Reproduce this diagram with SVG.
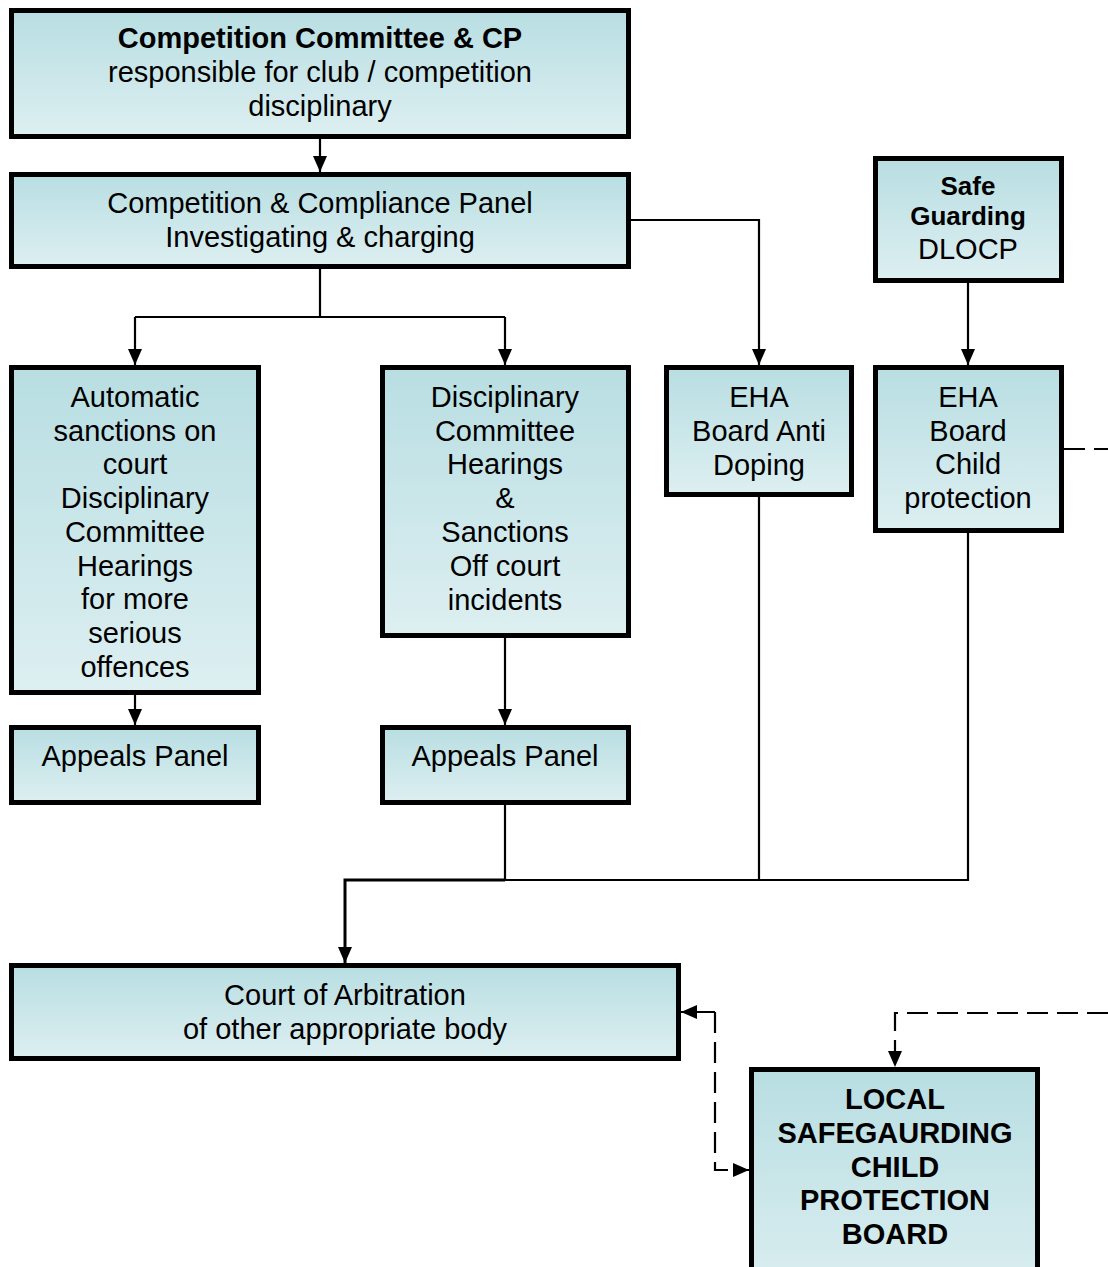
<svg xmlns="http://www.w3.org/2000/svg" width="1108" height="1267" viewBox="0 0 1108 1267">
<style>
.box{fill:url(#g);stroke:#000;stroke-width:5}
text{font-family:"Liberation Sans",Arial,sans-serif;font-size:29px;fill:#000;text-anchor:middle}
.b{font-weight:bold}
.s{font-size:26px}
.ln{fill:none;stroke:#000;stroke-width:2.2}
.thick{stroke-width:3}
.d{stroke-dasharray:21 9}
</style>
<defs>
<linearGradient id="g" x1="0" y1="0" x2="0" y2="1">
<stop offset="0" stop-color="#b8dee2"/>
<stop offset="1" stop-color="#ddeff1"/>
</linearGradient>
<marker id="a" viewBox="0 0 16 14" refX="16" refY="7" markerWidth="16" markerHeight="14" orient="auto" markerUnits="userSpaceOnUse">
<path d="M0,0 L16,7 L0,14 z" fill="#000"/>
</marker>
</defs>
<g id="connectors">
<path class="ln" d="M320,139 V172" marker-end="url(#a)"/>
<path class="ln" d="M631,220 H759 V365" marker-end="url(#a)"/>
<path class="ln" d="M320,269 V317 M135,317 H505"/>
<path class="ln" d="M135,317 V365" marker-end="url(#a)"/>
<path class="ln" d="M505,317 V365" marker-end="url(#a)"/>
<path class="ln" d="M968,283 V365" marker-end="url(#a)"/>
<path class="ln" d="M135,695 V725" marker-end="url(#a)"/>
<path class="ln" d="M505,638 V725" marker-end="url(#a)"/>
<path class="ln" d="M505,805 V880 H968 V533 M759,497 V880"/>
<path class="ln thick" d="M505,880 H345 V963" marker-end="url(#a)"/>
<path class="ln d" d="M1064,449 H1108"/>
<path class="ln d" d="M1108,1013 H895 V1067" marker-end="url(#a)"/>
<path class="ln d" d="M715,1012 H681" marker-end="url(#a)"/>
<path class="ln d" d="M715,1012 V1170 H749" marker-end="url(#a)"/>
</g>
<g id="n1">
<rect class="box" x="11.5" y="10.5" width="617" height="126"/>
<text class="b" x="320" y="48">Competition Committee &amp; CP</text>
<text x="320" y="82">responsible for club / competition</text>
<text x="320" y="116">disciplinary</text>
</g>
<g id="n2">
<rect class="box" x="11.5" y="174.5" width="617" height="92"/>
<text x="320" y="213">Competition &amp; Compliance Panel</text>
<text x="320" y="247">Investigating &amp; charging</text>
</g>
<g id="n3">
<rect class="box" x="11.5" y="367.5" width="247" height="325"/>
<text x="135" y="407">Automatic</text>
<text x="135" y="441">sanctions on</text>
<text x="135" y="474">court</text>
<text x="135" y="508">Disciplinary</text>
<text x="135" y="542">Committee</text>
<text x="135" y="576">Hearings</text>
<text x="135" y="609">for more</text>
<text x="135" y="643">serious</text>
<text x="135" y="677">offences</text>
</g>
<g id="n4">
<rect class="box" x="382.5" y="367.5" width="246" height="268"/>
<text x="505" y="407">Disciplinary</text>
<text x="505" y="441">Committee</text>
<text x="505" y="474">Hearings</text>
<text x="505" y="508">&amp;</text>
<text x="505" y="542">Sanctions</text>
<text x="505" y="576">Off court</text>
<text x="505" y="610">incidents</text>
</g>
<g id="n5">
<rect class="box" x="666.5" y="367.5" width="185" height="127"/>
<text x="759" y="407">EHA</text>
<text x="759" y="441">Board Anti</text>
<text x="759" y="475">Doping</text>
</g>
<g id="n6">
<rect class="box" x="875.5" y="158.5" width="186" height="122"/>
<text class="b s" x="968" y="195">Safe</text>
<text class="b s" x="968" y="225">Guarding</text>
<text x="968" y="259">DLOCP</text>
</g>
<g id="n7">
<rect class="box" x="875.5" y="367.5" width="186" height="163"/>
<text x="968" y="407">EHA</text>
<text x="968" y="441">Board</text>
<text x="968" y="474">Child</text>
<text x="968" y="508">protection</text>
</g>
<g id="n8">
<rect class="box" x="11.5" y="727.5" width="247" height="75"/>
<text x="135" y="766">Appeals Panel</text>
</g>
<g id="n9">
<rect class="box" x="382.5" y="727.5" width="246" height="75"/>
<text x="505" y="766">Appeals Panel</text>
</g>
<g id="n10">
<rect class="box" x="11.5" y="965.5" width="667" height="93"/>
<text x="345" y="1005">Court of Arbitration</text>
<text x="345" y="1039">of other appropriate body</text>
</g>
<g id="n11">
<rect class="box" x="751.5" y="1069.5" width="286" height="240"/>
<text class="b" x="895" y="1109">LOCAL</text>
<text class="b" x="895" y="1143">SAFEGAURDING</text>
<text class="b" x="895" y="1177">CHILD</text>
<text class="b" x="895" y="1210">PROTECTION</text>
<text class="b" x="895" y="1244">BOARD</text>
</g>
</svg>
